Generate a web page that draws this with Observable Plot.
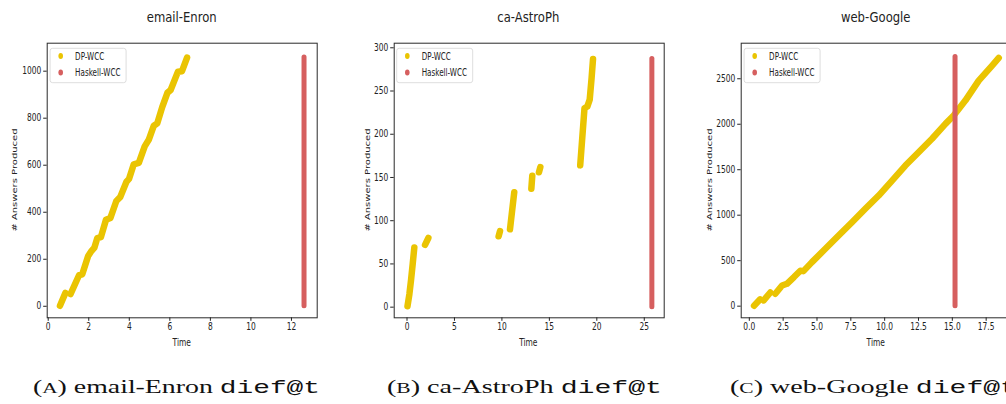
<!DOCTYPE html>
<html><head><meta charset="utf-8">
<script src="https://cdn.jsdelivr.net/npm/d3@7"></script>
<script src="https://cdn.jsdelivr.net/npm/@observablehq/plot@0.6"></script>
<style>
html,body{margin:0;padding:0;background:#fff;width:1006px;height:404px;overflow:hidden;}
#root{position:relative;width:1006px;height:404px;overflow:hidden;background:#fff;}
.panel{position:absolute;top:0;}
#overlay{position:absolute;left:0;top:0;}
</style></head><body><div id="root"></div>
<script>
// ---- data ----
const seriesNames = ["DP-WCC", "Haskell-WCC"];
const seriesColors = ["#eac402", "#d65f5f"];
const datasetNames = ["email-Enron", "ca-AstroPh", "web-Google"];
const captionLetters = ["A", "B", "C"];
const axisLabelX = "Time";
const axisLabelY = "# Answers Produced";

// email-Enron, DP-WCC (time, answers produced, run id)
const enronDpTime    = [0.58, 0.85, 1.1, 1.52, 1.68, 1.97, 2.14, 2.28, 2.42, 2.6, 2.85, 3.07, 3.36, 3.55, 3.86, 3.99, 4.22, 4.47, 4.76, 4.96, 5.21, 5.38, 5.62, 5.88, 6.04, 6.4, 6.6, 6.85];
const enronDpAnswers = [2, 57, 52, 132, 136, 214, 236, 250, 290, 294, 368, 376, 448, 464, 530, 542, 604, 610, 680, 708, 768, 778, 846, 908, 920, 998, 1000, 1058];
const enronDpRun     = [0, 0, 1, 1, 1, 1, 1, 1, 1, 1, 1, 1, 1, 1, 1, 1, 1, 1, 1, 1, 1, 1, 1, 1, 1, 1, 1, 1];

// ca-AstroPh, DP-WCC
const astroDpTime    = [0.05, 0.25, 0.42, 0.6, 0.77, 1.9, 2.25, 9.65, 9.8, 10.85, 11.3, 13.1, 13.2, 13.9, 14.05, 18.25, 18.7, 19.0, 19.25, 19.45, 19.6];
const astroDpAnswers = [1, 15, 31, 50, 69, 72, 80, 82, 88, 90, 133, 137, 152, 156, 162, 164, 230, 232, 240, 265, 287];
const astroDpRun     = [0, 0, 0, 0, 0, 1, 1, 2, 2, 3, 3, 4, 4, 5, 5, 6, 6, 6, 6, 6, 6];

// web-Google, DP-WCC
const googleDpTime    = [0.35, 0.8, 1.06, 1.55, 1.92, 2.42, 2.78, 3.3, 3.77, 4.0, 4.63, 5.62, 6.6, 7.59, 8.57, 9.56, 10.55, 11.53, 12.51, 13.5, 14.49, 15.1, 15.96, 16.95, 17.94, 18.43];
const googleDpAnswers = [5, 75, 63, 150, 136, 227, 246, 320, 390, 385, 484, 631, 777, 923, 1070, 1216, 1381, 1546, 1692, 1840, 2004, 2096, 2260, 2480, 2645, 2730];
const googleDpRun     = [0, 0, 1, 1, 2, 2, 2, 2, 2, 2, 2, 2, 2, 2, 2, 2, 2, 2, 2, 2, 2, 2, 2, 2, 2, 2];

// Haskell-WCC: all answers emitted at one time
const haskellTime    = [12.62, 25.8, 15.2];
const haskellAnswers = [1058, 287, 2738];

// axes
const xTicks = [[0, 2, 4, 6, 8, 10, 12], [0, 5, 10, 15, 20, 25], [0, 2.5, 5, 7.5, 10, 12.5, 15, 17.5]];
const yTicks = [[0, 200, 400, 600, 800, 1000], [0, 50, 100, 150, 200, 250, 300], [0, 500, 1000, 1500, 2000, 2500]];
const xTickDecimals = [0, 0, 1];
const xDomains = [[-0.05, 13.27], [-1.35, 27.1], [-0.6, 19.35]];
const yDomains = [[-49, 1119], [-12.3, 305.3], [-128, 2891]];

// ---- layout ----
const frameLefts = [46.7, 393.3, 740.7];
const frameW = 270, frameTop = 42.7, frameBottom = 317.3;
const mL = 46.7, mR = 13.3, mT = frameTop, H = 350, mB = H - frameBottom;
const yLabelBaselineX = [16.7, 370, 711.7];
const captionCenters = [176.5, 524.5, 873.5];
const captionWidths = [287, 275, 287];
const SQ = 0.75; // horizontal squeeze of the reference raster

const dpSets = [
  {t: enronDpTime, a: enronDpAnswers, r: enronDpRun},
  {t: astroDpTime, a: astroDpAnswers, r: astroDpRun},
  {t: googleDpTime, a: googleDpAnswers, r: googleDpRun}
];

const root = document.getElementById("root");

dpSets.forEach((s, i) => {
  const dp = s.t.map((t, k) => ({time: t, answers: s.a[k], run: s.r[k]}));
  const hk = [{time: haskellTime[i], answers: haskellAnswers[i]}];
  const fmt = xTickDecimals[i] ? d3.format(".1f") : d => String(d);
  const chart = Plot.plot({
    width: mL + frameW + mR, height: H,
    marginLeft: mL, marginRight: mR, marginTop: mT, marginBottom: mB,
    style: {background: "transparent", fontFamily: "DejaVu Sans", fontSize: "10px", color: "#222", overflow: "visible", maxWidth: "none"},
    x: {domain: xDomains[i], ticks: xTicks[i], tickFormat: fmt, tickSize: 3.5, tickPadding: 2, label: null},
    y: {domain: yDomains[i], ticks: yTicks[i], tickFormat: d => String(d), tickSize: 3.5, tickPadding: 2.5, label: null},
    marks: [
      Plot.line(dp, {x: "time", y: "answers", z: "run", stroke: seriesColors[0], strokeWidth: 6.5, strokeLinecap: "round", strokeLinejoin: "round"}),
      Plot.ruleX(hk, {x: "time", y1: 0, y2: "answers", stroke: seriesColors[1], strokeWidth: 5, strokeLinecap: "round"}),
      Plot.frame({stroke: "#2a2a2a", strokeWidth: 1})
    ]
  });
  chart.classList.add("panel");
  chart.style.position = "absolute";
  chart.style.left = (frameLefts[i] - mL) + "px";
  chart.style.top = "0px";
  chart.querySelectorAll("text").forEach(t => {
    const x = +t.getAttribute("x") || 0;
    const prev = t.getAttribute("transform") || "";
    t.setAttribute("transform", `${prev} translate(${x},0) scale(${SQ},1) translate(${-x},0)`);
  });
  root.appendChild(chart);
});

// ---- titles, axis labels, legends, captions ----
const ov = d3.create("svg").attr("id", "overlay").attr("width", 1006).attr("height", 404)
  .attr("font-family", "DejaVu Sans").attr("fill", "#222");

datasetNames.forEach((name, i) => {
  const cx = frameLefts[i] + frameW / 2;
  ov.append("text").attr("transform", `translate(${cx},21.5) scale(0.83,1)`)
    .attr("text-anchor", "middle").attr("font-size", 14).text(name);
  ov.append("text").attr("transform", `translate(${cx},346) scale(${SQ},1)`)
    .attr("text-anchor", "middle").attr("font-size", 10).text(axisLabelX);
  ov.append("text").attr("transform", `translate(${yLabelBaselineX[i]},${(frameTop + frameBottom) / 2}) scale(${SQ},1) rotate(-90)`)
    .attr("text-anchor", "middle").attr("font-size", 10).text(axisLabelY);

  // legend
  const lx = frameLefts[i] + 3.4, ly = 48.3;
  const lg = ov.append("g");
  lg.append("rect").attr("x", lx).attr("y", ly).attr("width", 76).attr("height", 34.4).attr("rx", 2.5)
    .attr("fill", "#fff").attr("fill-opacity", 0.8).attr("stroke", "#d4d4d4").attr("stroke-width", 0.8);
  seriesNames.forEach((sn, k) => {
    const my = ly + 7.8 + k * 16.3;
    lg.append("ellipse").attr("cx", lx + 10.6).attr("cy", my).attr("rx", 2.3).attr("ry", 3).attr("fill", seriesColors[k]);
    lg.append("text").attr("transform", `translate(${lx + 25},${my + 3.4}) scale(${SQ},1)`)
      .attr("font-size", 9.6).text(sn);
  });

  // caption
  const cap = ov.append("text").attr("x", captionCenters[i]).attr("y", 392.7).attr("text-anchor", "middle")
    .attr("font-family", "Liberation Serif").attr("font-size", 19).attr("fill", "#111")
    .attr("textLength", captionWidths[i]).attr("lengthAdjust", "spacingAndGlyphs");
  cap.append("tspan").text("(");
  cap.append("tspan").attr("font-size", 14.5).text(captionLetters[i]);
  cap.append("tspan").text(") " + name + " ");
  cap.append("tspan").attr("font-family", "Liberation Mono").text("dief@t");
});
root.appendChild(ov.node());
</script>
</body></html>
